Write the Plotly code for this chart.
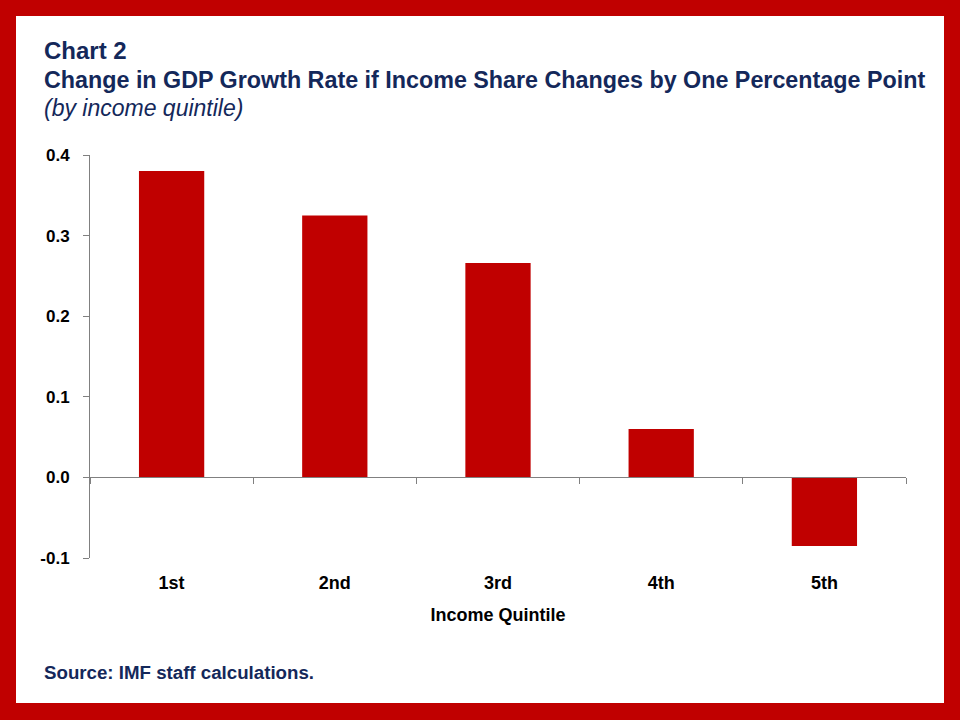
import plotly.graph_objects as go

categories = ["1st", "2nd", "3rd", "4th", "5th"]
values = [0.38, 0.325, 0.266, 0.06, -0.085]
y_ticks = [-0.1, 0.0, 0.1, 0.2, 0.3, 0.4]
y_tick_labels = ["-0.1", "0.0", "0.1", "0.2", "0.3", "0.4"]

W, H = 960, 720
L, R, T, B = 90, 54, 155, 162
PW, PH = W - L - R, H - T - B

def px(x):
    return (x - L) / PW

def py(y):
    return (H - B - y) / PH

RED = "#C00000"
NAVY = "#14285A"
FONT = "Arial, Liberation Sans, sans-serif"
XR = [-0.5, len(categories) - 0.5]

fig = go.Figure()
fig.add_trace(go.Bar(x=categories, y=values, marker=dict(color=RED, line=dict(width=0)),
                     xaxis="x", yaxis="y", hoverinfo="skip"))
fig.add_trace(go.Scatter(x=categories, y=[0] * len(categories), mode="markers",
                         marker=dict(opacity=0), xaxis="x2", yaxis="y",
                         showlegend=False, hoverinfo="skip"))

fig.update_layout(
    width=W, height=H,
    margin=dict(l=L, r=R, t=T, b=B),
    paper_bgcolor=RED,
    plot_bgcolor="rgba(0,0,0,0)",
    showlegend=False,
    bargap=0.6,
    font=dict(family=FONT, color="black"),
    xaxis=dict(
        type="category", range=XR, showline=False, ticks="", showgrid=False, zeroline=False,
        tickfont=dict(size=18, color="black", family=FONT), ticklabelstandoff=12,
        title=dict(text="<b>Income Quintile</b>", font=dict(size=18, color="black"), standoff=16),
        tickprefix="<b>", ticksuffix="</b>",
    ),
    xaxis2=dict(
        type="category", range=XR, overlaying="x", anchor="free", position=0.2,
        showline=True, linecolor="#808080", linewidth=1,
        ticks="outside", ticklen=6, tickcolor="#808080", tickson="boundaries",
        showticklabels=False, showgrid=False, zeroline=False,
    ),
    yaxis=dict(
        range=[-0.1, 0.4], tickvals=y_ticks, ticktext=["<b>%s</b>" % t for t in y_tick_labels],
        showline=True, linecolor="#808080", linewidth=1,
        ticks="outside", ticklen=6, tickcolor="#808080",
        showgrid=False, zeroline=False,
        tickfont=dict(size=17, color="black", family=FONT), ticklabelstandoff=10,
    ),
    shapes=[dict(type="rect", xref="paper", yref="paper",
                 x0=px(16), x1=px(944), y0=py(703), y1=py(16),
                 fillcolor="white", line=dict(width=0), layer="below")],
    annotations=[
        dict(text="<b>Chart 2</b>", xref="paper", yref="paper", x=px(42), y=py(50),
             xanchor="left", yanchor="middle", showarrow=False,
             font=dict(size=24, color=NAVY, family=FONT)),
        dict(text="<b>Change in GDP Growth Rate if Income Share Changes by One Percentage Point</b>",
             xref="paper", yref="paper", x=px(42), y=py(80),
             xanchor="left", yanchor="middle", showarrow=False,
             font=dict(size=23.3, color=NAVY, family=FONT)),
        dict(text="<i>(by income quintile)</i>", xref="paper", yref="paper", x=px(42), y=py(108),
             xanchor="left", yanchor="middle", showarrow=False,
             font=dict(size=23, color=NAVY, family=FONT)),
        dict(text="<b>Source: IMF staff calculations.</b>", xref="paper", yref="paper",
             x=px(42), y=py(672), xanchor="left", yanchor="middle", showarrow=False,
             font=dict(size=18.7, color=NAVY, family=FONT)),
    ],
)

fig.write_html("out.html")
